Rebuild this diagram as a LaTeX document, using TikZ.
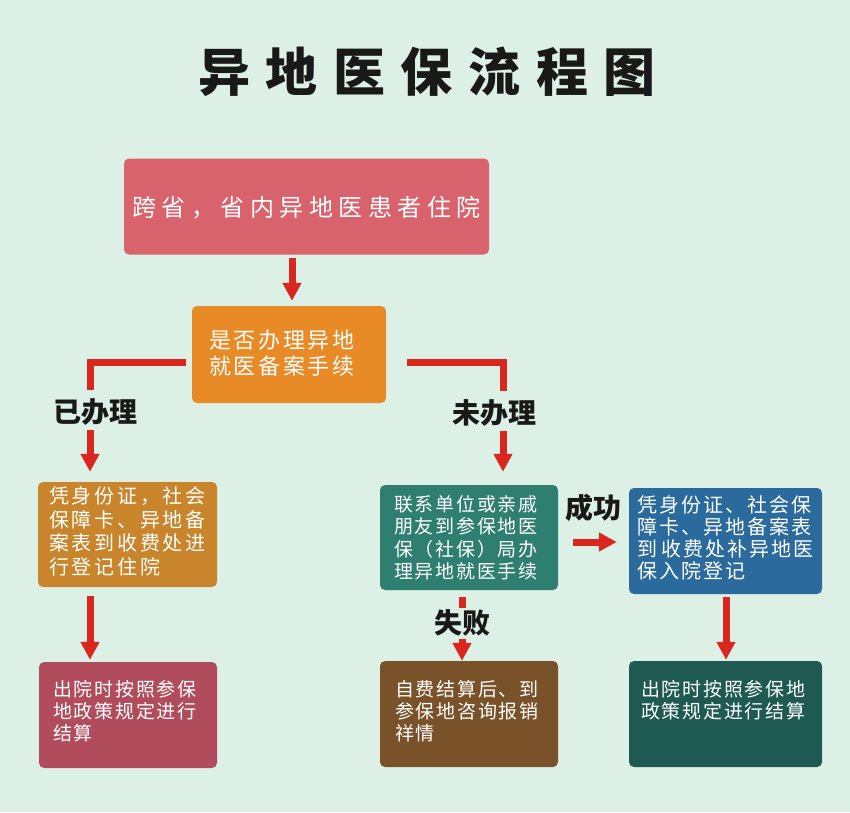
\documentclass[tikz,border=0pt]{standalone}
\usepackage{fontspec}
\usetikzlibrary{arrows.meta}
\setmainfont{Noto Sans CJK SC}
\newfontfamily\cjk{Noto Sans CJK SC}
\newfontfamily\ftitle[LetterSpace=30]{Noto Sans CJK SC}
\newfontfamily\fA[LetterSpace=23]{Noto Sans CJK SC}
\newfontfamily\fB[LetterSpace=12]{Noto Sans CJK SC}
\newfontfamily\fC[LetterSpace=13.5]{Noto Sans CJK SC}
\newfontfamily\fD[LetterSpace=9]{Noto Sans CJK SC}
\newfontfamily\fE[LetterSpace=10.5]{Noto Sans CJK SC}
\newfontfamily\fF[LetterSpace=9]{Noto Sans CJK SC}
\definecolor{bg}{HTML}{DDF0E6}
\definecolor{cA}{HTML}{D9636C}
\definecolor{cB}{HTML}{E88A26}
\definecolor{cC}{HTML}{C8852B}
\definecolor{cD}{HTML}{2E7F6F}
\definecolor{cE}{HTML}{2B6A9C}
\definecolor{cF}{HTML}{B14C5C}
\definecolor{cG}{HTML}{7A5229}
\definecolor{cH}{HTML}{1E5A51}
\definecolor{ared}{HTML}{D9261F}
\tikzset{
  box/.style={rounded corners=5pt, inner sep=0pt, minimum width=#1},
  txt/.style={anchor=base west, inner sep=0pt, align=left, text=white},
  lbl/.style={inner sep=0pt, text=black!90, font=\cjk\bfseries\fontsize{28pt}{28pt}\selectfont},
  redline/.style={draw=ared, line width=7pt, line join=miter},
  arr/.style={redline, -{Triangle[width=18pt,length=18pt]}}
}
\begin{document}
\begin{tikzpicture}[x=1pt,y=-1pt]
\fill[bg] (0,0) rectangle (850,812);
\useasboundingbox (0,0) rectangle (850,812);

\node[inner sep=0pt, text=black!90, font=\ftitle\bfseries\fontsize{52pt}{52pt}\selectfont] (title) at (427,72) {异地医保流程图};

% boxes
\node[box=365pt, minimum height=96pt, fill=cA] (b1) at (306.5,206.5) {};
\node[box=194pt, minimum height=97pt, fill=cB] (b2) at (289,354.5) {};
\node[box=179pt, minimum height=105pt, fill=cC] (b3) at (127.5,534.5) {};
\node[box=178pt, minimum height=105pt, fill=cD] (b4) at (469,537.5) {};
\node[box=193pt, minimum height=106pt, fill=cE] (b5) at (725.5,541) {};
\node[box=178pt, minimum height=106pt, fill=cF] (b6) at (128,715) {};
\node[box=178pt, minimum height=106pt, fill=cG] (b7) at (469,714) {};
\node[box=193pt, minimum height=106pt, fill=cH] (b8) at (725.5,714) {};

% texts (anchor base = baseline of last line)
\node[txt, font=\fA\fontsize{24pt}{29pt}\selectfont] (t1) at (132,216) {跨省，省内异地医患者住院};
\node[txt, font=\fB\fontsize{22pt}{26pt}\selectfont] (t2) at (209,374.4) {是否办理异地\\就医备案手续};
\node[txt, font=\fC\fontsize{20pt}{23.5pt}\selectfont] (t3) at (49,574) {凭身份证，社会\\保障卡、异地备\\案表到收费处进\\行登记住院};
\node[txt, font=\fD\fontsize{19pt}{22.5pt}\selectfont] (t4) at (394,578.7) {联系单位或亲戚\\朋友到参保地医\\保（社保）局办\\理异地就医手续};
\node[txt, font=\fE\fontsize{20pt}{22pt}\selectfont] (t5) at (637,578.6) {凭身份证、社会保\\障卡、异地备案表\\到\hspace{4pt}收费处补异地医\\保入院登记};
\node[txt, font=\fF\fontsize{19pt}{22pt}\selectfont] (t6) at (53,740.2) {出院时按照参保\\地政策规定进行\\结算};
\node[txt, font=\fF\fontsize{19pt}{22pt}\selectfont] (t7) at (395,740.2) {自费结算后、到\\参保地咨询报销\\祥情};
\node[txt, font=\fF\fontsize{19pt}{22pt}\selectfont] (t8) at (641,718.2) {出院时按照参保地\\政策规定进行结算};

% labels
\node[lbl] (l1) at (95,412) {已办理};
\node[lbl] (l2) at (494,413) {未办理};
\node[lbl] (l3) at (593,508) {成功};
\node[lbl] (l4) at (462,623) {失败};

% connectors
\draw[arr, shorten <=3pt, shorten >=5pt] ([xshift=3pt]b2.north |- b1.south) -- ([xshift=3pt]b2.north);
\draw[redline, shorten <=6pt, shorten >=8pt] ([yshift=-7.5pt]b2.west) -| ([xshift=-5pt]l1.north);
\draw[arr, shorten <=4pt, shorten >=10pt] ([xshift=-5pt]l1.south) -- ([xshift=-5pt]l1.south |- b3.north);
\draw[redline, shorten <=21pt, shorten >=8pt] ([yshift=-7.5pt]b2.east) -| ([xshift=9pt]l2.north);
\draw[arr, shorten <=4pt, shorten >=13pt] ([xshift=9pt]l2.south) -- ([xshift=9pt]l2.south |- b4.north);
\draw[arr, shorten <=15pt, shorten >=12pt] ([yshift=-4.5pt]b4.east) -- ([yshift=-4.5pt]b4.east -| b5.west);
\draw[redline, shorten <=7pt, shorten >=1pt] ([xshift=-7pt]b4.south) -- ([xshift=-7pt]b4.south |- l4.north);
\draw[arr, shorten <=2pt] (l4.south) -- (l4.south |- b7.north);
\draw[arr, shorten <=9pt, shorten >=2pt] ([xshift=-37.5pt]b3.south) -- ([xshift=-37.5pt]b3.south |- b6.north);
\draw[arr, shorten <=3pt, shorten >=1pt] ([xshift=0.5pt]b5.south) -- ([xshift=0.5pt]b5.south |- b8.north);
\end{tikzpicture}
\end{document}
